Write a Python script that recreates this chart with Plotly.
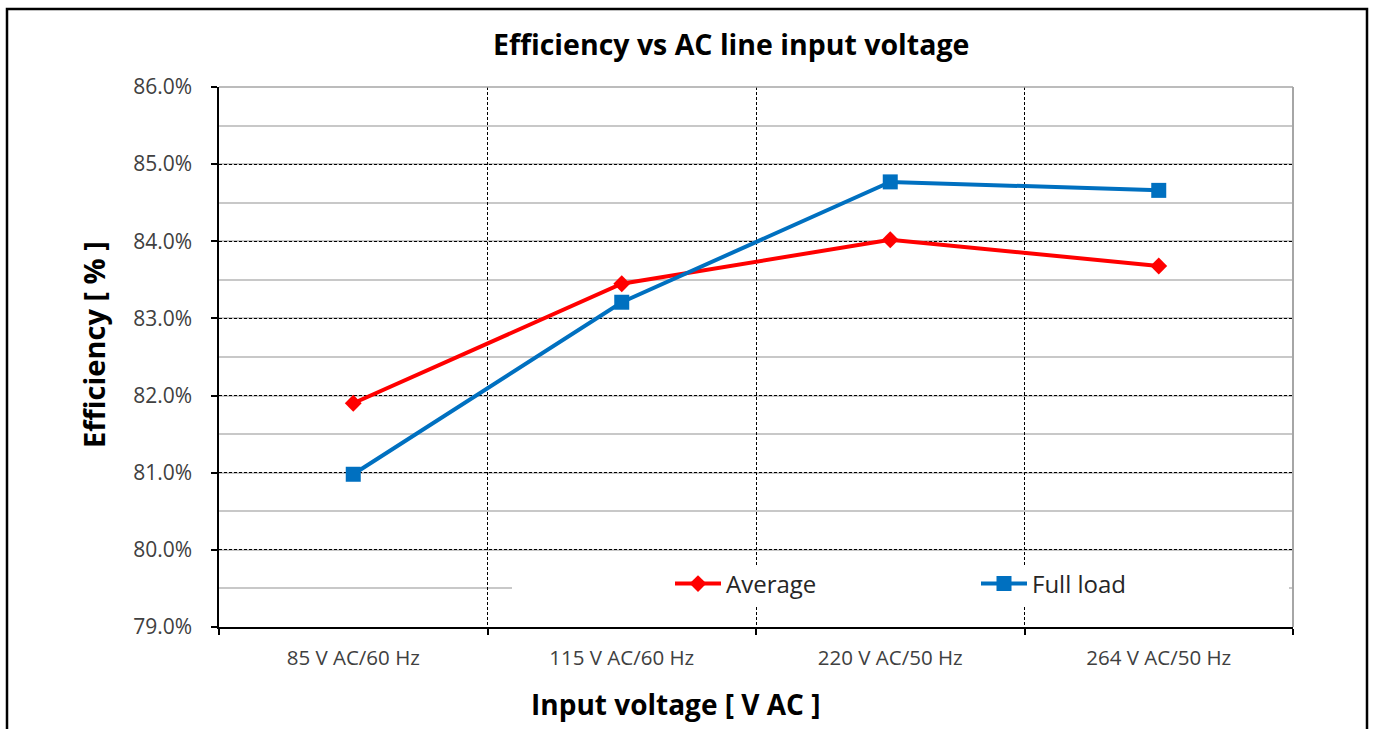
import plotly.graph_objects as go

categories = ["85 V AC/60 Hz", "115 V AC/60 Hz", "220 V AC/50 Hz", "264 V AC/50 Hz"]
average = [0.8190, 0.8345, 0.8402, 0.8368]
full_load = [0.8098, 0.8321, 0.8477, 0.8466]
y_ticks = [0.79, 0.80, 0.81, 0.82, 0.83, 0.84, 0.85, 0.86]

FONT = "Open Sans"
W, H = 1375, 729
ML, MR, MT, MB = 219, 82, 87, 102
PW = W - ML - MR
PH = H - MT - MB

def px_x(p):
    return (p - ML) / PW

def px_y(p):
    return (H - MB - p) / PH

fig = go.Figure()
fig.add_trace(go.Scatter(
    x=categories, y=average, name="Average", mode="lines+markers",
    line=dict(color="#FF0000", width=4),
    marker=dict(symbol="diamond", size=13, color="#FF0000"),
    legend="legend",
))
fig.add_trace(go.Scatter(
    x=categories, y=full_load, name="Full load", mode="lines+markers",
    line=dict(color="#0070C0", width=4),
    marker=dict(symbol="square", size=15, color="#0070C0"),
    legend="legend2",
))

shapes = [
    # white box behind legend
    dict(type="rect", xref="paper", yref="paper",
         x0=px_x(512), x1=px_x(1289), y0=px_y(606), y1=px_y(566),
         fillcolor="white", line=dict(width=0), layer="above"),
    # top and right gray border of plot area
    dict(type="line", xref="paper", yref="paper", x0=0, x1=1, y0=1, y1=1,
         line=dict(color="#A6A6A6", width=1.5)),
    dict(type="line", xref="paper", yref="paper", x0=1, x1=1, y0=0, y1=1,
         line=dict(color="#A6A6A6", width=2)),
    # outer chart border
    dict(type="rect", xref="paper", yref="paper",
         x0=px_x(7), x1=px_x(1367), y0=px_y(745), y1=px_y(9),
         line=dict(color="black", width=2.5), fillcolor="rgba(0,0,0,0)"),
]

annotations = [
    dict(text="<b>Efficiency vs AC line input voltage</b>", xref="paper", yref="paper",
         x=px_x(731), y=px_y(44), xanchor="center", yanchor="middle", showarrow=False,
         font=dict(family=FONT, size=28.5, color="black")),
    dict(text="<b>Efficiency [ % ]</b>", xref="paper", yref="paper",
         x=px_x(93), y=px_y(345), xanchor="center", yanchor="middle", showarrow=False,
         textangle=-90, font=dict(family=FONT, size=29, color="black")),
    dict(text="<b>Input voltage [ V AC ]</b>", xref="paper", yref="paper",
         x=px_x(675), y=px_y(704), xanchor="center", yanchor="middle", showarrow=False,
         font=dict(family=FONT, size=28, color="black")),
]

legend_common = dict(orientation="h", xanchor="left", yanchor="middle",
                     bgcolor="rgba(0,0,0,0)", itemwidth=46,
                     font=dict(family=FONT, size=24, color="#262626"))

fig.update_layout(
    width=W, height=H,
    margin=dict(l=ML, r=MR, t=MT, b=MB),
    paper_bgcolor="white", plot_bgcolor="white",
    font=dict(family=FONT, size=18, color="#404040"),
    showlegend=True,
    legend=dict(x=px_x(670), y=px_y(584), **legend_common),
    legend2=dict(x=px_x(976), y=px_y(584), **legend_common),
    shapes=shapes,
    annotations=annotations,
    xaxis=dict(
        type="category", range=[-0.5, 3.5], tickson="boundaries",
        showgrid=True, gridcolor="black", griddash="3px,2px", gridwidth=1,
        showline=True, linecolor="black", linewidth=1.5,
        ticks="outside", ticklen=6, tickcolor="black", tickwidth=1.5,
        tickfont=dict(family=FONT, size=20.5, color="#404040"),
        ticklabelstandoff=12,
        fixedrange=True,
    ),
    yaxis=dict(
        range=[0.79, 0.86], tickvals=y_ticks, tickformat=".1%",
        showgrid=True, gridcolor="black", griddash="3px,2px", gridwidth=1,
        minor=dict(dtick=0.005, tick0=0.785, showgrid=True, gridcolor="#C8C8C8",
                   gridwidth=1.5, griddash="solid", ticks=""),
        showline=True, linecolor="black", linewidth=1.5,
        ticks="outside", ticklen=6, tickcolor="black", tickwidth=1.5,
        tickfont=dict(family=FONT, size=21, color="#404040"),
        ticklabelstandoff=15, zeroline=False,
        fixedrange=True,
    ),
)

fig.write_html("out.html", config={"displayModeBar": False},
               post_script="document.body.style.margin='0';")
